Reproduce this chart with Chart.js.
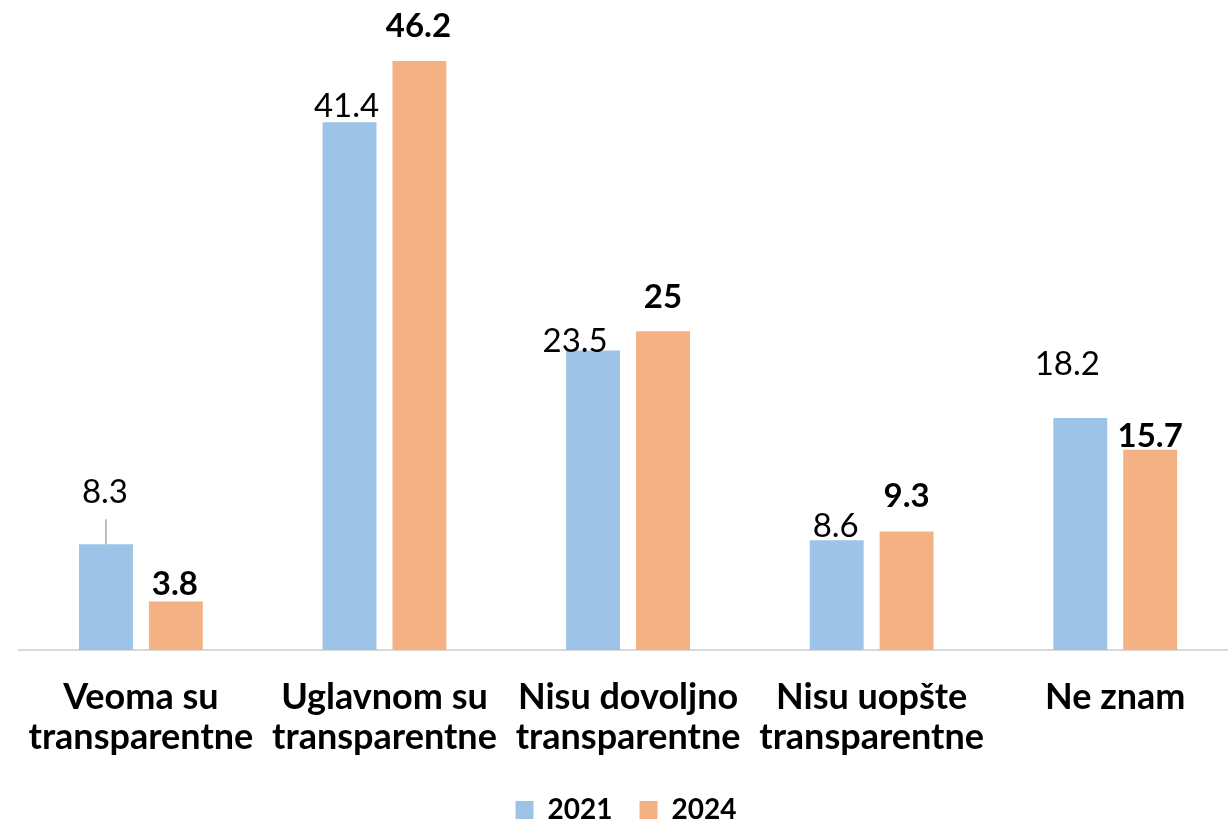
<!DOCTYPE html>
<html>
<head>
<meta charset="utf-8">
<script src="https://cdn.jsdelivr.net/npm/chart.js@4"></script>
<style>
    html, body { margin: 0; padding: 0; background: #fff; overflow: hidden; }
    #wrap { width: 1240px; height: 834px; }
</style>
</head>
<body>
<div id="wrap"><canvas id="chart" width="1240" height="834"></canvas></div>
<script>
const categories = [
    ['Veoma su', 'transparentne'],
    ['Uglavnom su', 'transparentne'],
    ['Nisu dovoljno', 'transparentne'],
    ['Nisu uopšte', 'transparentne'],
    'Ne znam'
];
const seriesNames = ['2021', '2024'];
const values2021 = [8.3, 41.4, 23.5, 8.6, 18.2];
const values2024 = [3.8, 46.2, 25, 9.3, 15.7];

// label placement tweaks (dx from bar centre, gap between bar top and text baseline)
const labelOffsets = [
    [[-1, 41], [-3, 5], [-18, -2], [-1, 3], [-13, 43]],
    [[-1, 7], [-1, 24], [0, 23], [0, 24], [0, 3]]
];

const valueLabels = {
    id: 'valueLabels',
    afterDatasetsDraw(chart) {
        const ctx = chart.ctx;
        ctx.save();
        ctx.textAlign = 'center';
        ctx.textBaseline = 'alphabetic';
        ctx.fillStyle = '#000';
        chart.data.datasets.forEach((ds, di) => {
            const meta = chart.getDatasetMeta(di);
            ctx.font = (di === 1 ? 'bold ' : '') + '33px Lato';
            meta.data.forEach((bar, i) => {
                const [dx, gap] = labelOffsets[di][i];
                ctx.fillText(String(ds.data[i]), bar.x + dx, bar.y - gap);
            });
        });
        // leader line for the first label
        const first = chart.getDatasetMeta(0).data[0];
        ctx.strokeStyle = '#a6a6a6';
        ctx.lineWidth = 1.5;
        ctx.beginPath();
        ctx.moveTo(first.x, first.y);
        ctx.lineTo(first.x, first.y - 25);
        ctx.stroke();
        ctx.restore();
    }
};

new Chart(document.getElementById('chart').getContext('2d'), {
    type: 'bar',
    data: {
        labels: categories,
        datasets: [{
            label: seriesNames[0],
            data: values2021,
            backgroundColor: '#9DC3E6',
            categoryPercentage: 0.574,
            barPercentage: 0.771
        }, {
            label: seriesNames[1],
            data: values2024,
            backgroundColor: '#F4B183',
            categoryPercentage: 0.574,
            barPercentage: 0.771
        }]
    },
    options: {
        responsive: false,
        devicePixelRatio: 1,
        animation: false,
        layout: {
            padding: { top: 12.5, left: 15, right: 3, bottom: 0 }
        },
        plugins: {
            legend: {
                position: 'bottom',
                labels: {
                    boxWidth: 18,
                    boxHeight: 18,
                    padding: 27,
                    color: '#000',
                    font: { family: 'Lato', size: 28, weight: 'bold' }
                }
            },
            tooltip: { enabled: false }
        },
        scales: {
            y: {
                display: false,
                min: 0,
                max: 50
            },
            x: {
                grid: { display: false, drawTicks: false },
                border: { display: true, color: '#d9d9d9', width: 2 },
                ticks: {
                    padding: 27,
                    color: '#000',
                    maxRotation: 0,
                    font: { family: 'Lato', size: 36, weight: 'bold', lineHeight: 1.11 }
                },
                afterFit(scale) {
                    scale.height = 119;
                }
            }
        }
    },
    plugins: [valueLabels]
});
</script>
</body>
</html>
